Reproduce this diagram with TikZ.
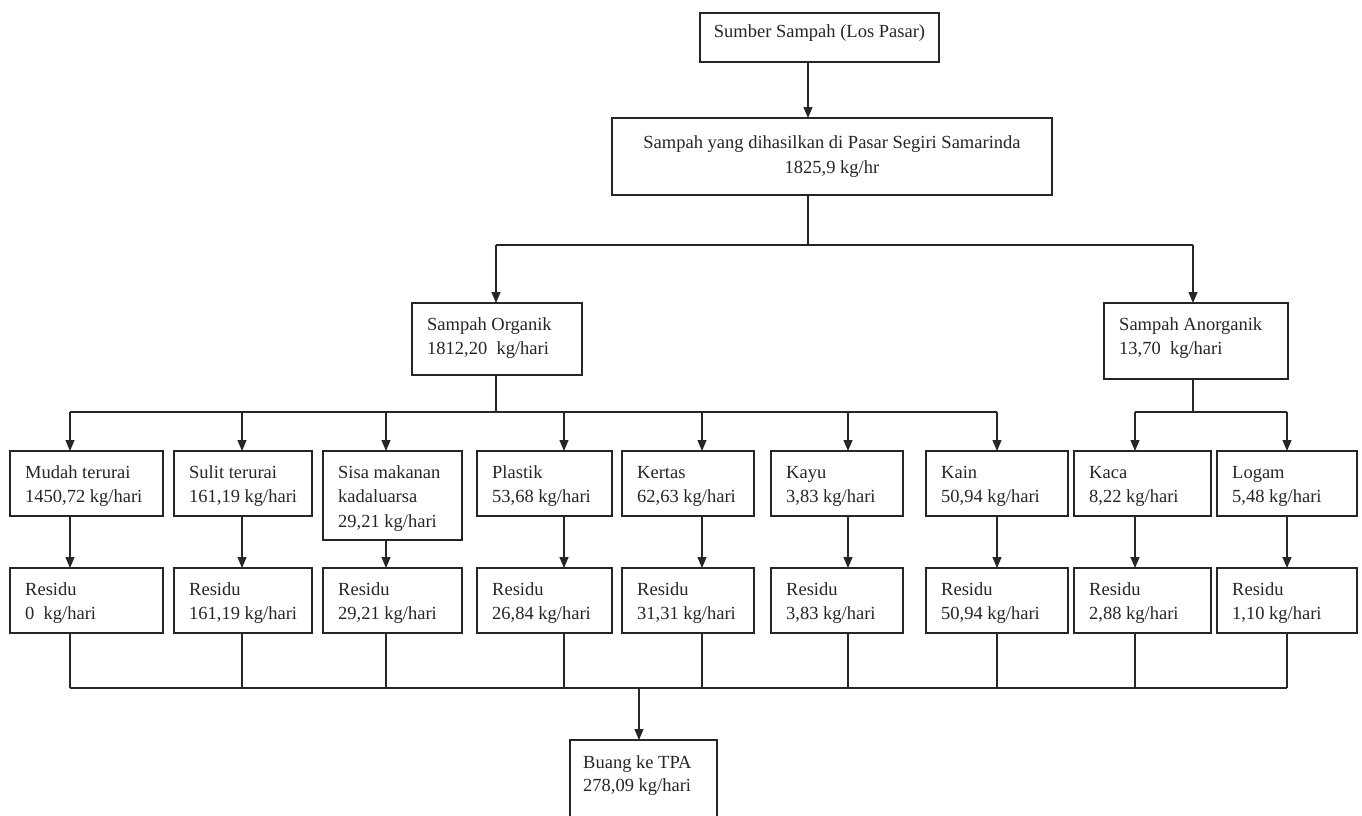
\documentclass[tikz,border=0pt]{standalone}
\usepackage{fontspec}
\setmainfont{Liberation Serif}
\usetikzlibrary{arrows.meta}
\newcommand\twol[2]{\vtop{\baselineskip=24pt\hbox{#1}\hbox{#2}}}
\newcommand\threel[3]{\vtop{\baselineskip=24.5pt\hbox{#1}\hbox{#2}\hbox{#3}}}
\newcommand\bx[7]{%
  \node[box,minimum width=#4,minimum height=#5] (#1) at (#2,#3) {};
  \node[txt] (#1t) at (#2+15,#3+#6) {#7};}
\begin{document}
\begin{tikzpicture}[x=1pt,y=-1pt,
  box/.style={draw=black!85,line width=1.2pt,inner sep=0pt,outer sep=0pt,anchor=north west,fill=white},
  txt/.style={anchor=base west,inner sep=0pt,font=\fontsize{18.5}{24}\selectfont,text=black!85},
  ctxt/.style={anchor=base,inner sep=0pt,font=\fontsize{18.5}{24}\selectfont,text=black!85},
  conn/.style={draw=black!85,line width=1.1pt},
  arr/.style={conn,-{Triangle[width=9pt,length=11pt]}}]
\useasboundingbox (0,0) rectangle (1362,815);
\clip (0,0) rectangle (1362,815);

% top boxes
\node[box,minimum width=239,minimum height=49] (n1) at (700,13) {};
\node[ctxt] (n1t) at (819.5,37) {Sumber Sampah (Los Pasar)};
\node[box,minimum width=440,minimum height=77] (n2) at (612,118) {};
\node[ctxt] (n2a) at (832,148) {Sampah yang dihasilkan di Pasar Segiri Samarinda};
\node[ctxt] (n2b) at (832,173) {1825,9 kg/hr};

% second level
\bx{org}{412}{303}{170}{72}{27}{\twol{Sampah Organik}{1812,20\ \ kg/hari}}
\bx{ano}{1104}{303}{184}{76}{27}{\twol{Sampah Anorganik}{13,70\ \ kg/hari}}

% third level
\bx{b1}{10}{451}{153}{65}{27}{\twol{Mudah terurai}{1450,72 kg/hari}}
\bx{b2}{174}{451}{138}{65}{27}{\twol{Sulit terurai}{161,19 kg/hari}}
\bx{b3}{323}{451}{139}{89}{27}{\threel{Sisa makanan}{kadaluarsa}{29,21 kg/hari}}
\bx{b4}{477}{451}{135}{65}{27}{\twol{Plastik}{53,68 kg/hari}}
\bx{b5}{622}{451}{132}{65}{27}{\twol{Kertas}{62,63 kg/hari}}
\bx{b6}{771}{451}{132}{65}{27}{\twol{Kayu}{3,83 kg/hari}}
\bx{b7}{926}{451}{142}{65}{27}{\twol{Kain}{50,94 kg/hari}}
\bx{b8}{1074}{451}{137}{65}{27}{\twol{Kaca}{8,22 kg/hari}}
\bx{b9}{1217}{451}{140}{65}{27}{\twol{Logam}{5,48 kg/hari}}

% residu
\bx{r1}{10}{568}{153}{65}{27}{\twol{Residu}{0\ \ kg/hari}}
\bx{r2}{174}{568}{138}{65}{27}{\twol{Residu}{161,19 kg/hari}}
\bx{r3}{323}{568}{139}{65}{27}{\twol{Residu}{29,21 kg/hari}}
\bx{r4}{477}{568}{135}{65}{27}{\twol{Residu}{26,84 kg/hari}}
\bx{r5}{622}{568}{132}{65}{27}{\twol{Residu}{31,31 kg/hari}}
\bx{r6}{771}{568}{132}{65}{27}{\twol{Residu}{3,83 kg/hari}}
\bx{r7}{926}{568}{142}{65}{27}{\twol{Residu}{50,94 kg/hari}}
\bx{r8}{1074}{568}{137}{65}{27}{\twol{Residu}{2,88 kg/hari}}
\bx{r9}{1217}{568}{140}{65}{27}{\twol{Residu}{1,10 kg/hari}}

% final
\node[box,minimum width=147,minimum height=95] (tpa) at (570,740) {};
\node[txt] (tpat) at (583,768) {\vtop{\baselineskip=23pt\hbox{Buang ke TPA}\hbox{278,09 kg/hari}}};

% helper coordinates
\coordinate (xa) at (808,0);
\coordinate (s1) at (808,245);
\coordinate (s2) at (496,245);
\coordinate (s3) at (1193,245);
\coordinate (o1) at (496,412);
\coordinate (a1) at (1193,412);
\coordinate (c1) at (70,412);
\coordinate (c2) at (242,412);
\coordinate (c3) at (386,412);
\coordinate (c4) at (564,412);
\coordinate (c5) at (702,412);
\coordinate (c6) at (848,412);
\coordinate (c7) at (997,412);
\coordinate (c8) at (1135,412);
\coordinate (c9) at (1287,412);
\coordinate (bl) at (70,688);
\coordinate (br) at (1287,688);
\coordinate (bm) at (639,688);

% connectors top
\draw[arr] (n1.south -| xa) -- (n2.north -| xa);
\draw[conn] (n2.south -| xa) -- (s1);
\draw[conn] (s2) -- (s3);
\draw[arr] (s2) -- (org.north -| s2);
\draw[arr] (s3) -- (ano.north -| s3);
\draw[conn] (org.south -| o1) -- (o1);
\draw[conn] (ano.south -| a1) -- (a1);
\draw[conn] (c1) -- (c7);
\draw[conn] (c8) -- (c9);

\foreach \i in {1,...,9}{
  \draw[arr] (c\i) -- (b\i.north -| c\i);
  \draw[arr] (b\i.south -| c\i) -- (r\i.north -| c\i);
  \draw[conn] (r\i.south -| c\i) -- (bl -| c\i);
}
\draw[conn] (bl) -- (br);
\draw[arr] (bm) -- (tpa.north -| bm);
\end{tikzpicture}
\end{document}
